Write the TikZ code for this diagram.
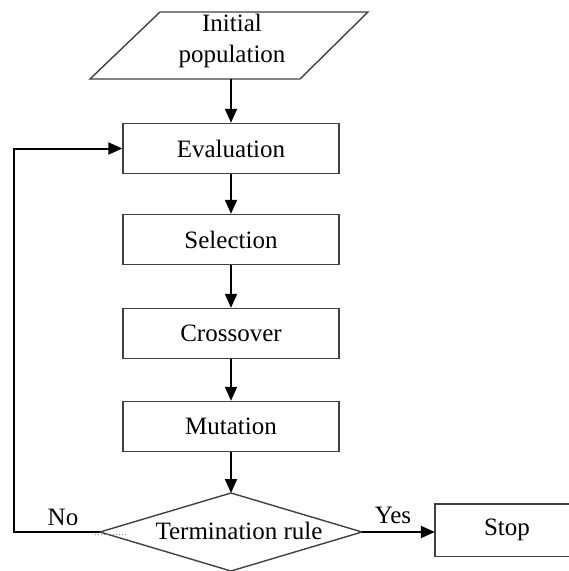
\documentclass[tikz,border=0pt]{standalone}
\usepackage{fontspec}
\setmainfont{Liberation Serif}
\usetikzlibrary{shapes.geometric,arrows.meta}
\begin{document}
\begin{tikzpicture}[x=1pt,y=-1pt,
 txt/.style={font=\fontsize{25}{31}\selectfont,text=black},
 outline/.style={draw=black!75,line width=1.4pt},
 box/.style={txt,outline,minimum width=216pt,minimum height=50pt,inner sep=0pt},
 arr/.style={line width=2pt,black,-{Triangle[length=14pt,width=12pt]}}]
\useasboundingbox (0,0) rectangle (569,571);
% initial population (parallelogram)
\draw[outline] (160,12) -- (368,12) -- (300,79) -- (90,79) -- cycle;
\node[txt,align=center] (init) at (232,41) {Initial\\population};
\coordinate (initb) at (231,79);
% process boxes
\node[box] (eval) at (231,148.5) {Evaluation};
\node[box] (sel) at (231,239.5) {Selection};
\node[box] (cross) at (231,333.5) {Crossover};
\node[box] (mut) at (231,426.5) {Mutation};
% termination rule (diamond)
\coordinate (termN) at (231,493);
\coordinate (termE) at (362,532);
\coordinate (termS) at (231,571);
\coordinate (termW) at (100,532);
\draw[outline] (termN) -- (termE) -- (termS) -- (termW) -- cycle;
\node[txt] (term) at (239,531) {Termination rule};
% stop box (runs past the right border)
\node[txt,minimum width=144pt,minimum height=52pt,inner sep=0pt] (stop) at (507,530) {Stop};
\draw[outline] (stop.north west) rectangle ([xshift=60pt]stop.south east);
% connectors
\draw[arr] (initb) -- (eval.north);
\draw[arr] (eval.south) -- (sel.north);
\draw[arr] (sel.south) -- (cross.north);
\draw[arr] (cross.south) -- (mut.north);
\draw[arr] (mut.south) -- (termN);
\draw[arr] (termE) -- (stop.west |- termE);
\coordinate (fb) at (14,532);
\draw[arr] (termW) -- (fb) |- (eval.west);
\draw[black!50,dotted,line width=1pt] (95,534) -- (128,534);
% labels
\node[txt] (no) at (63,517) {No};
\node[txt] (yes) at (393,515) {Yes};
\end{tikzpicture}
\end{document}
